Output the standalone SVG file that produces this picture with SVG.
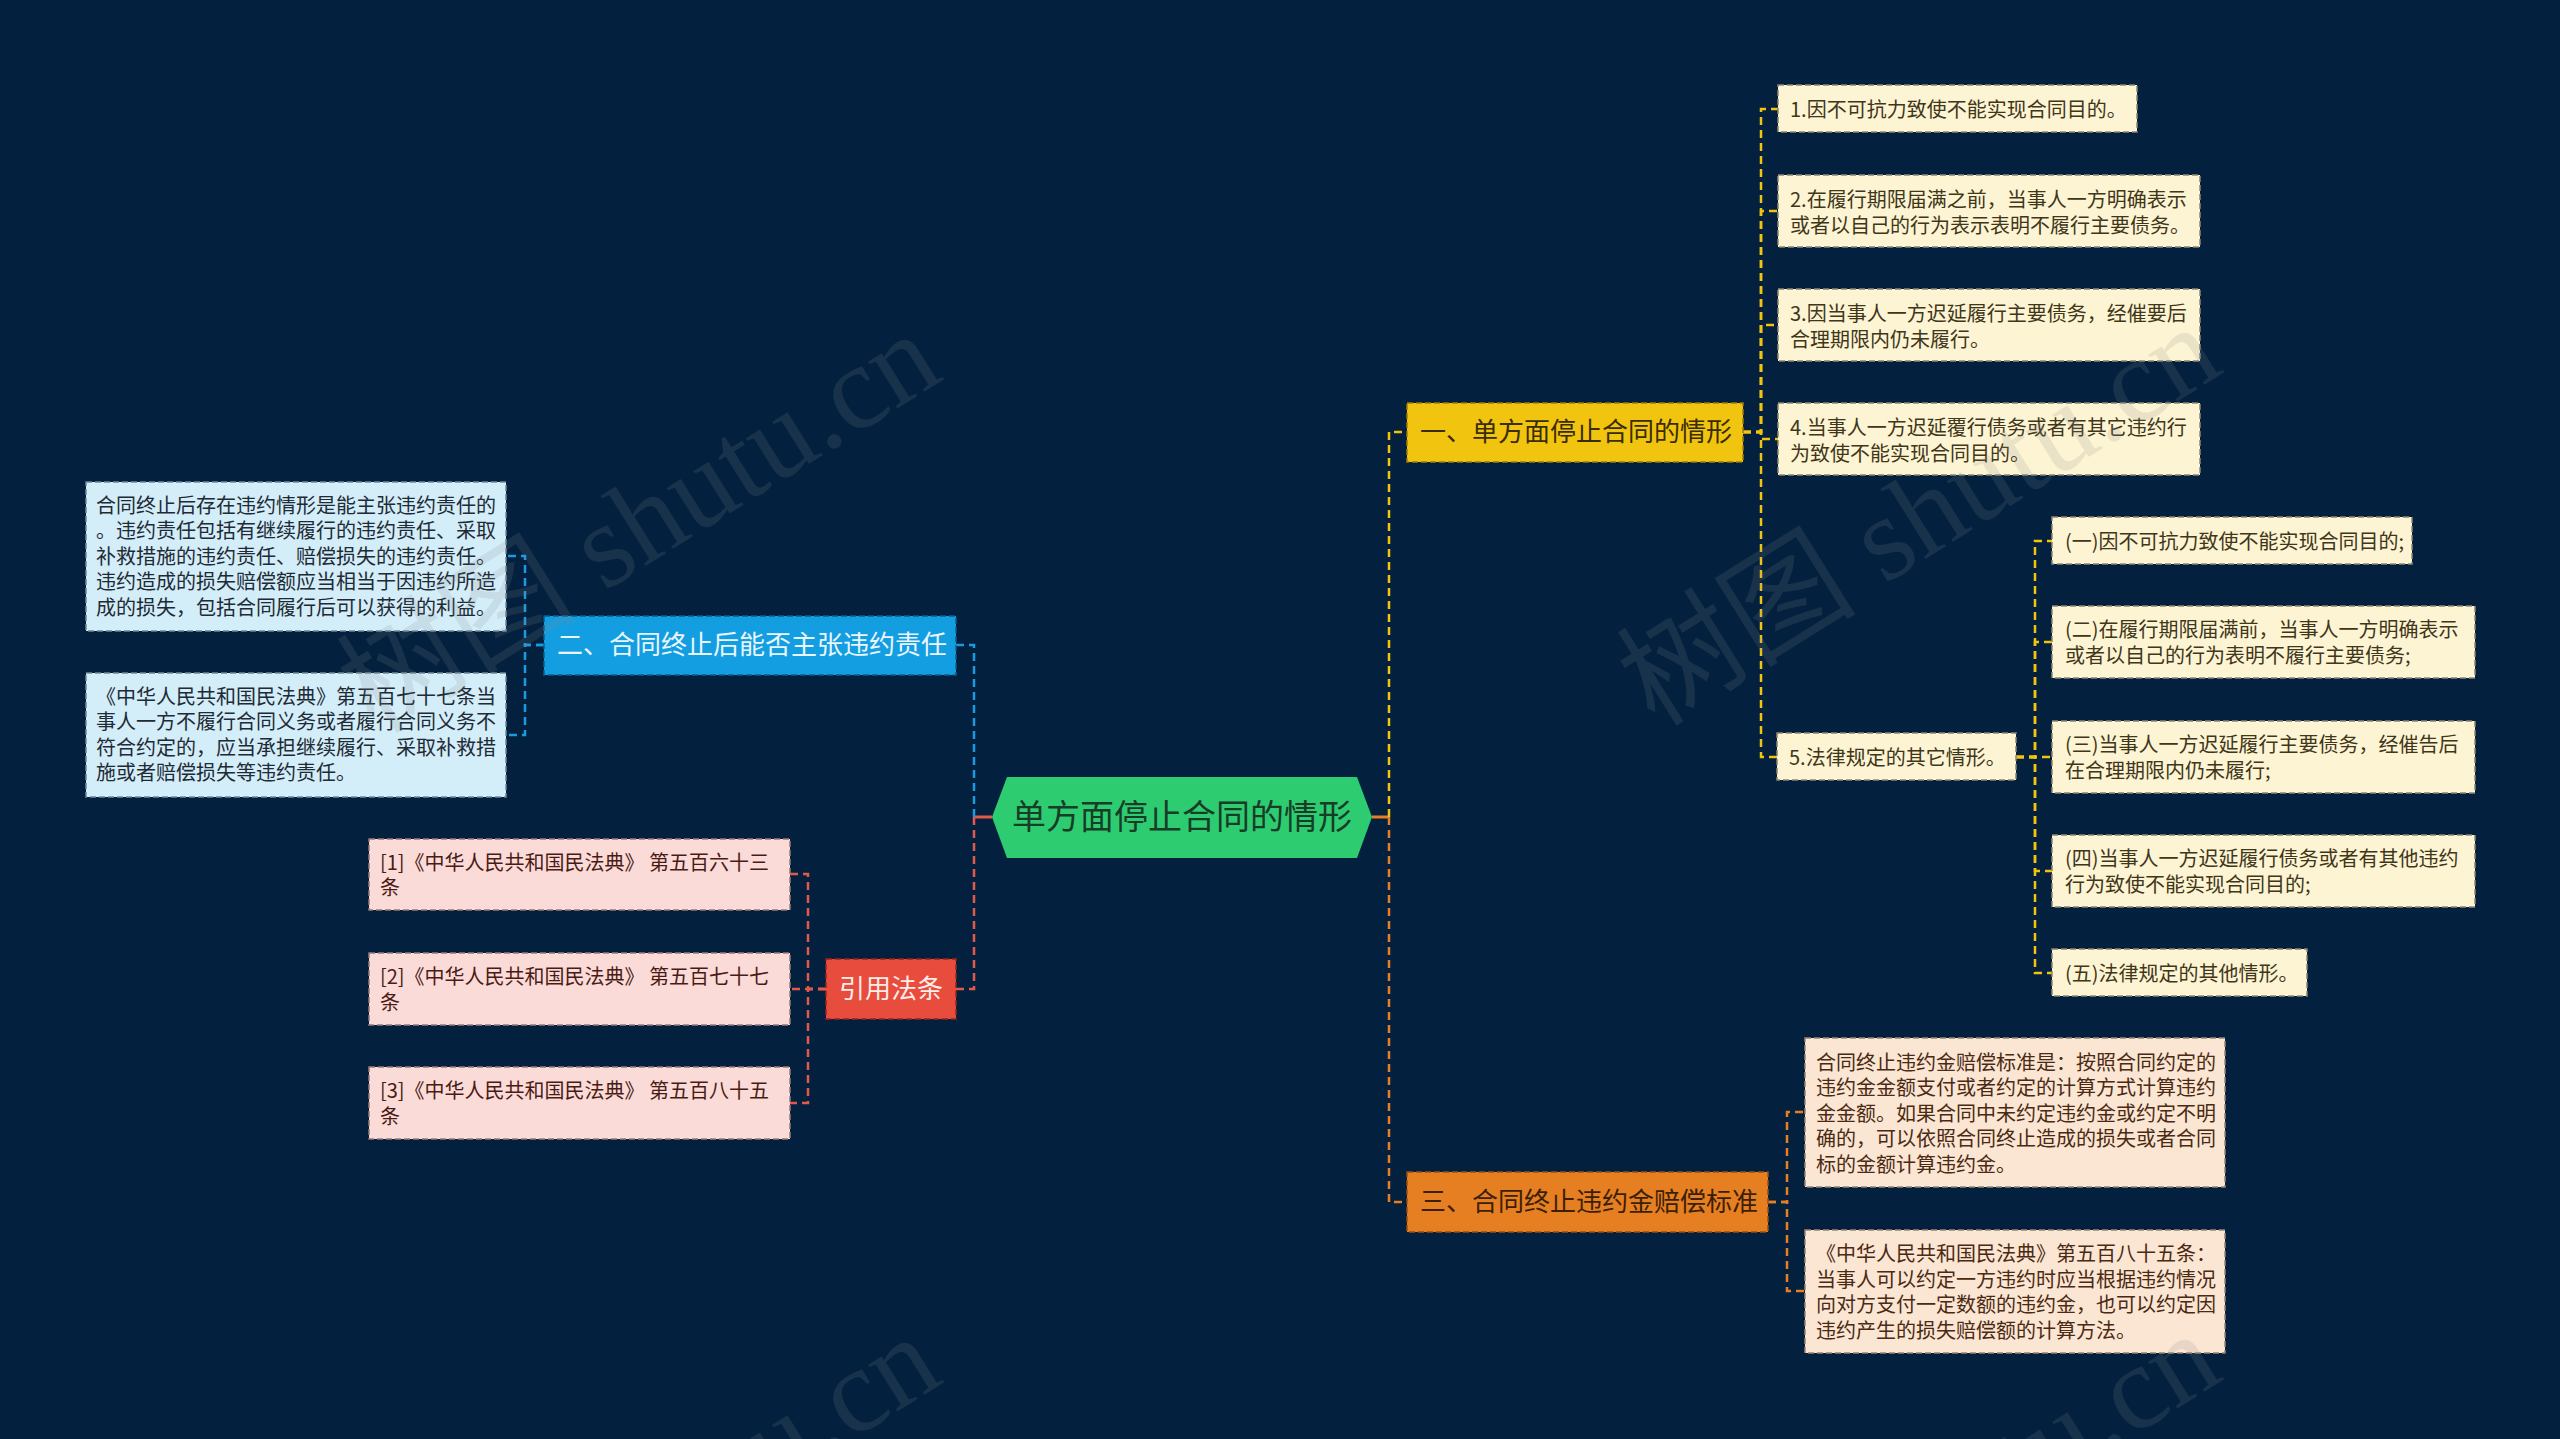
<svg xmlns="http://www.w3.org/2000/svg" width="2560" height="1439" viewBox="0 0 2560 1439">
<style>
text{font-family:"Noto Sans CJK SC","Microsoft YaHei",sans-serif;}
.leaf{font-size:20px;}
.main{font-size:26px;}
.c{fill:none;stroke-width:2.5;stroke-dasharray:8 5;}
.cs{fill:none;stroke-width:3;}
.y{stroke:#f1c40f;}
.o{stroke:#e67e22;}
.b{stroke:#1a9be0;}
.r{stroke:#e2584a;}
.bx{stroke-width:1.5;stroke-dasharray:6 3;}
.cream{fill:#fdf4d3;stroke:#8d8670;}
.cream-t{fill:#40361a;}
.lblue{fill:#d3edf9;stroke:#6f8a99;}
.lblue-t{fill:#1e2b35;}
.pink{fill:#fadbd8;stroke:#9a7a78;}
.pink-t{fill:#4a1a15;}
.peach{fill:#fbe5d3;stroke:#9a8472;}
.peach-t{fill:#4a2a12;}
.wm{font-family:"Liberation Serif","Noto Sans CJK SC",serif;font-size:120px;fill:#8a8a8a;fill-opacity:0.17;}
</style>
<rect x="0" y="0" width="2560" height="1439" fill="#03213f"/>

<g id="connectors">
  <path class="cs o" d="M1372,817 H1389"/>
  <path class="c y" d="M1389,817 V432 H1407"/>
  <path class="c o" d="M1389,817 V1202 H1407"/>
  <path class="c y" d="M1743,432 H1761 V109 H1778"/>
  <path class="c y" d="M1743,432 H1761 V211 H1778"/>
  <path class="c y" d="M1743,432 H1761 V325 H1778"/>
  <path class="c y" d="M1743,432 H1761 V439 H1778"/>
  <path class="c y" d="M1743,432 H1761 V757 H1777"/>
  <path class="c y" d="M2016,757 H2035 V541 H2052"/>
  <path class="c y" d="M2016,757 H2035 V642 H2052"/>
  <path class="c y" d="M2016,757 H2035 V757 H2052"/>
  <path class="c y" d="M2016,757 H2035 V871 H2052"/>
  <path class="c y" d="M2016,757 H2035 V973 H2052"/>
  <path class="c o" d="M1768,1202 H1787 V1112 H1805"/>
  <path class="c o" d="M1768,1202 H1787 V1291 H1805"/>
  <path class="cs r" d="M992,817 H974"/>
  <path class="c b" d="M974,817 V645 H956"/>
  <path class="c r" d="M974,817 V989 H956"/>
  <path class="c b" d="M544,645 H525 V556 H506"/>
  <path class="c b" d="M544,645 H525 V735 H506"/>
  <path class="c r" d="M826,989 H808 V874 H790"/>
  <path class="c r" d="M826,989 H808 V989 H790"/>
  <path class="c r" d="M826,989 H808 V1103 H790"/>
</g>

<g id="root">
  <polygon points="992,817 1007,777 1357,777 1372,817 1357,858 1007,858" fill="#2ecc71"/>
  <text x="1182" y="829" font-size="34" text-anchor="middle" fill="#173d27">单方面停止合同的情形</text>
</g>

<g id="n1">
  <rect x="1407" y="403" width="336" height="59" fill="#f1c40f" stroke="#a07d05" class="bx"/>
  <text class="main" x="1420" y="441" fill="#3a2c05">一、单方面停止合同的情形</text>
</g>
<g id="n1c1">
  <rect class="bx cream" x="1778" y="85" width="359" height="47"/>
  <text class="leaf cream-t" x="1790" y="117">1.因不可抗力致使不能实现合同目的。</text>
</g>
<g id="n1c2">
  <rect class="bx cream" x="1778" y="175" width="422" height="72"/>
  <text class="leaf cream-t" x="1790" y="207">2.在履行期限届满之前，当事人一方明确表示</text>
  <text class="leaf cream-t" x="1790" y="233">或者以自己的行为表示表明不履行主要债务。</text>
</g>
<g id="n1c3">
  <rect class="bx cream" x="1778" y="289" width="422" height="72"/>
  <text class="leaf cream-t" x="1790" y="321">3.因当事人一方迟延履行主要债务，经催要后</text>
  <text class="leaf cream-t" x="1790" y="347">合理期限内仍未履行。</text>
</g>
<g id="n1c4">
  <rect class="bx cream" x="1778" y="403" width="422" height="72"/>
  <text class="leaf cream-t" x="1790" y="435">4.当事人一方迟延覆行债务或者有其它违约行</text>
  <text class="leaf cream-t" x="1790" y="461">为致使不能实现合同目的。</text>
</g>
<g id="n1c5">
  <rect class="bx cream" x="1777" y="733" width="239" height="47"/>
  <text class="leaf cream-t" x="1789" y="765">5.法律规定的其它情形。</text>
</g>
<g id="s1">
  <rect class="bx cream" x="2052" y="517" width="360" height="47"/>
  <text class="leaf cream-t" x="2065" y="549">(一)因不可抗力致使不能实现合同目的;</text>
</g>
<g id="s2">
  <rect class="bx cream" x="2052" y="606" width="423" height="72"/>
  <text class="leaf cream-t" x="2065" y="637">(二)在履行期限届满前，当事人一方明确表示</text>
  <text class="leaf cream-t" x="2065" y="663">或者以自己的行为表明不履行主要债务;</text>
</g>
<g id="s3">
  <rect class="bx cream" x="2052" y="721" width="423" height="72"/>
  <text class="leaf cream-t" x="2065" y="752">(三)当事人一方迟延履行主要债务，经催告后</text>
  <text class="leaf cream-t" x="2065" y="778">在合理期限内仍未履行;</text>
</g>
<g id="s4">
  <rect class="bx cream" x="2052" y="835" width="423" height="72"/>
  <text class="leaf cream-t" x="2065" y="866">(四)当事人一方迟延履行债务或者有其他违约</text>
  <text class="leaf cream-t" x="2065" y="892">行为致使不能实现合同目的;</text>
</g>
<g id="s5">
  <rect class="bx cream" x="2052" y="949" width="255" height="47"/>
  <text class="leaf cream-t" x="2065" y="981">(五)法律规定的其他情形。</text>
</g>

<g id="n3">
  <rect x="1407" y="1172" width="361" height="60" fill="#e67e22" stroke="#9c4f0a" class="bx"/>
  <text class="main" x="1420" y="1211" fill="#3d1f05">三、合同终止违约金赔偿标准</text>
</g>
<g id="n3c1">
  <rect class="bx peach" x="1805" y="1038" width="420" height="149"/>
  <text class="leaf peach-t" x="1816" y="1070">合同终止违约金赔偿标准是：按照合同约定的</text>
  <text class="leaf peach-t" x="1816" y="1095">违约金金额支付或者约定的计算方式计算违约</text>
  <text class="leaf peach-t" x="1816" y="1121">金金额。如果合同中未约定违约金或约定不明</text>
  <text class="leaf peach-t" x="1816" y="1146">确的，可以依照合同终止造成的损失或者合同</text>
  <text class="leaf peach-t" x="1816" y="1172">标的金额计算违约金。</text>
</g>
<g id="n3c2">
  <rect class="bx peach" x="1805" y="1230" width="420" height="123"/>
  <text class="leaf peach-t" x="1816" y="1261">《中华人民共和国民法典》第五百八十五条：</text>
  <text class="leaf peach-t" x="1816" y="1287">当事人可以约定一方违约时应当根据违约情况</text>
  <text class="leaf peach-t" x="1816" y="1312">向对方支付一定数额的违约金，也可以约定因</text>
  <text class="leaf peach-t" x="1816" y="1338">违约产生的损失赔偿额的计算方法。</text>
</g>

<g id="n2">
  <rect x="544" y="616" width="412" height="59" fill="#139ee2" stroke="#0b5f8c" class="bx"/>
  <text class="main" x="557" y="654" fill="#eaf6fd">二、合同终止后能否主张违约责任</text>
</g>
<g id="n2c1">
  <rect class="bx lblue" x="86" y="482" width="420" height="149"/>
  <text class="leaf lblue-t" x="96" y="513">合同终止后存在违约情形是能主张违约责任的</text>
  <text class="leaf lblue-t" x="96" y="538">。违约责任包括有继续履行的违约责任、采取</text>
  <text class="leaf lblue-t" x="96" y="564">补救措施的违约责任、赔偿损失的违约责任。</text>
  <text class="leaf lblue-t" x="96" y="589">违约造成的损失赔偿额应当相当于因违约所造</text>
  <text class="leaf lblue-t" x="96" y="615">成的损失，包括合同履行后可以获得的利益。</text>
</g>
<g id="n2c2">
  <rect class="bx lblue" x="86" y="673" width="420" height="124"/>
  <text class="leaf lblue-t" x="96" y="704">《中华人民共和国民法典》第五百七十七条当</text>
  <text class="leaf lblue-t" x="96" y="729">事人一方不履行合同义务或者履行合同义务不</text>
  <text class="leaf lblue-t" x="96" y="755">符合约定的，应当承担继续履行、采取补救措</text>
  <text class="leaf lblue-t" x="96" y="780">施或者赔偿损失等违约责任。</text>
</g>

<g id="n4">
  <rect x="826" y="959" width="130" height="60" fill="#e74c3c" stroke="#9a2418" class="bx"/>
  <text class="main" x="891" y="998" text-anchor="middle" fill="#fdecea">引用法条</text>
</g>
<g id="n4c1">
  <rect class="bx pink" x="369" y="839" width="421" height="71"/>
  <text class="leaf pink-t" x="380" y="870">[1]《中华人民共和国民法典》 第五百六十三</text>
  <text class="leaf pink-t" x="380" y="895">条</text>
</g>
<g id="n4c2">
  <rect class="bx pink" x="369" y="953" width="421" height="72"/>
  <text class="leaf pink-t" x="380" y="984">[2]《中华人民共和国民法典》 第五百七十七</text>
  <text class="leaf pink-t" x="380" y="1010">条</text>
</g>
<g id="n4c3">
  <rect class="bx pink" x="369" y="1067" width="421" height="72"/>
  <text class="leaf pink-t" x="380" y="1098">[3]《中华人民共和国民法典》 第五百八十五</text>
  <text class="leaf pink-t" x="380" y="1124">条</text>
</g>

<g id="watermark">
  <text class="wm" transform="translate(375,735) rotate(-32)">树图 shutu.cn</text>
  <text class="wm" transform="translate(1655,728) rotate(-32)">树图 shutu.cn</text>
  <text class="wm" transform="translate(375,1738) rotate(-32)">树图 shutu.cn</text>
  <text class="wm" transform="translate(1655,1735) rotate(-32)">树图 shutu.cn</text>
</g>
</svg>
